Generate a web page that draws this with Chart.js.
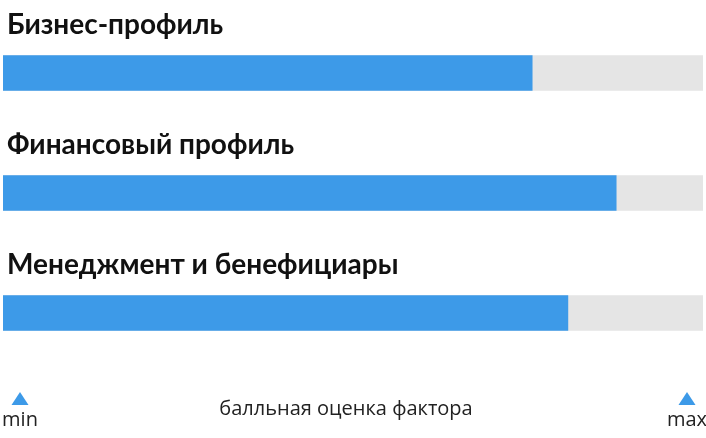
<!DOCTYPE html>
<html>
<head>
<meta charset="utf-8">
<script src="https://cdn.jsdelivr.net/npm/chart.js@4/dist/chart.umd.min.js"></script>
<style>
  html, body { margin: 0; padding: 0; background: #fff; }
  #wrap { width: 706px; height: 438px; position: relative; }
</style>
</head>
<body>
<div id="wrap"><canvas id="chart"></canvas></div>
<script>
const factors = ['Бизнес-профиль', 'Финансовый профиль', 'Менеджмент и бенефициары']
const scores = [75.6, 87.6, 80.7]
const maxScore = 100
const track = factors.map(() => maxScore)
const axisTitle = 'балльная оценка фактора'
const endLabels = ['min', 'max']

const blue = '#3d9ae8'
const grey = '#e5e5e5'

// titles over each bar and the min/max scale underneath
const overlay = {
    id: 'overlay',
    afterDatasetsDraw(chart) {
        const ctx = chart.ctx
        const x = chart.scales.x
        const y = chart.scales.y
        ctx.save()

        ctx.fillStyle = '#111'
        ctx.font = '700 28px Lato'
        ctx.textAlign = 'left'
        ctx.textBaseline = 'alphabetic'
        factors.forEach((name, i) => {
            const top = y.getPixelForValue(i) - 17.5
            ctx.fillText(name, 7, top - 22)
        })

        const ends = [x.getPixelForValue(0) + 17, x.getPixelForValue(maxScore) - 16]
        ends.forEach((cx, i) => {
            ctx.fillStyle = blue
            ctx.beginPath()
            ctx.moveTo(cx, 392)
            ctx.lineTo(cx + 8.5, 405)
            ctx.lineTo(cx - 8.5, 405)
            ctx.closePath()
            ctx.fill()
            ctx.fillStyle = '#222'
            ctx.font = '20px "Open Sans"'
            ctx.textAlign = 'center'
            ctx.fillText(endLabels[i], cx, 426)
        })

        ctx.fillStyle = '#222'
        ctx.font = '20px "Open Sans"'
        ctx.textAlign = 'center'
        ctx.fillText(axisTitle, (x.left + x.right) / 2 - 7, 415)
        ctx.restore()
    }
}

new Chart(document.querySelector('#chart'), {
    type: 'bar',
    data: {
        labels: factors,
        datasets: [
            { data: scores, backgroundColor: blue, order: 0, barThickness: 35, grouped: false },
            { data: track, backgroundColor: grey, order: 1, barThickness: 35, grouped: false }
        ]
    },
    options: {
        indexAxis: 'y',
        responsive: true,
        maintainAspectRatio: false,
        animation: false,
        layout: { padding: { left: 3, right: 3, top: 13, bottom: 65 } },
        plugins: { legend: { display: false }, tooltip: { enabled: false } },
        scales: {
            x: { display: false, min: 0, max: maxScore },
            y: { display: false }
        }
    },
    plugins: [overlay]
})
</script>
</body>
</html>
